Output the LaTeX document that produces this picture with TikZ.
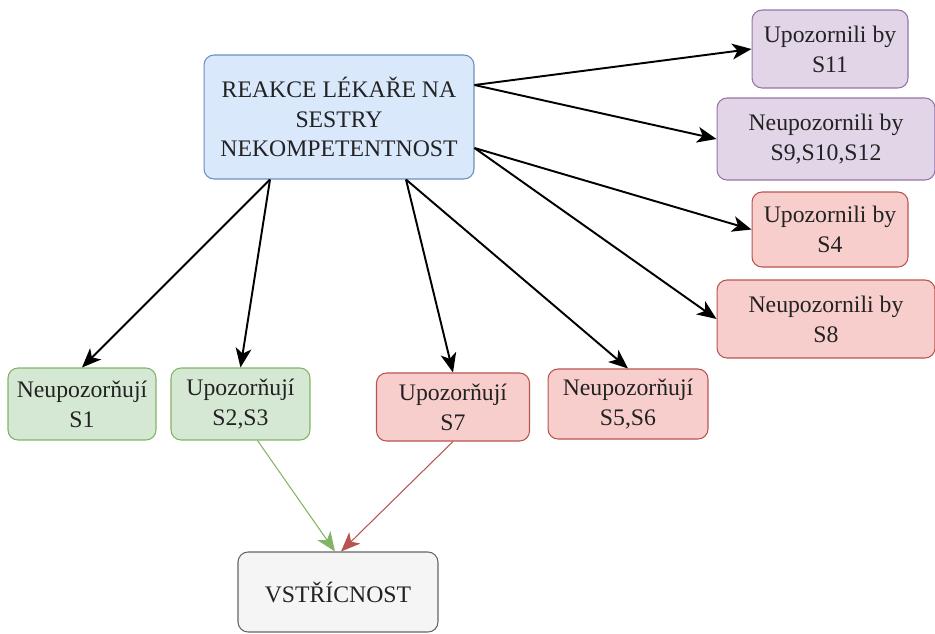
\documentclass[tikz,border=0pt]{standalone}
\usepackage{fontspec}
\setmainfont{Liberation Serif}
\usetikzlibrary{arrows.meta}

\definecolor{blueFill}{HTML}{DAE8FC}
\definecolor{blueLine}{HTML}{6C8EBF}
\definecolor{violetFill}{HTML}{E1D5E7}
\definecolor{violetLine}{HTML}{9673A6}
\definecolor{redFill}{HTML}{F8CECC}
\definecolor{redLine}{HTML}{B85450}
\definecolor{greenFill}{HTML}{D5E8D4}
\definecolor{greenLine}{HTML}{82B366}
\definecolor{greyFill}{HTML}{F5F5F5}
\definecolor{greyLine}{HTML}{666666}
\definecolor{txt}{HTML}{222222}

\begin{document}
\begin{tikzpicture}[x=0.02cm, y=-0.02cm, >={Stealth[length=11pt,width=9pt,inset=3pt]},
  font=\fontsize{13.5}{17}\selectfont,
  box/.style={draw, rounded corners=0.2cm, align=center, inner sep=0pt, text=txt, line width=0.6pt},
  bluebox/.style={box, fill=blueFill, draw=blueLine},
  violetbox/.style={box, fill=violetFill, draw=violetLine},
  redbox/.style={box, fill=redFill, draw=redLine},
  greenbox/.style={box, fill=greenFill, draw=greenLine},
  greybox/.style={box, fill=greyFill, draw=greyLine},
  link/.style={->, line width=1.1pt, black}]

\useasboundingbox (0,0) rectangle (935,633);

% main node
\node[bluebox, minimum width=5.4cm, minimum height=2.48cm] (reakce) at (339,117)
  {REAKCE LÉKAŘE NA\\SESTRY\\NEKOMPETENTNOST};

% right column
\node[violetbox, minimum width=3.12cm, minimum height=1.56cm] (s11) at (830,49)
  {Upozornili by\\S11};
\node[violetbox, minimum width=4.36cm, minimum height=1.64cm] (s9) at (826,139)
  {Neupozornili by\\S9,S10,S12};
\node[redbox, minimum width=3.12cm, minimum height=1.5cm] (s4) at (830,229.5)
  {Upozornili by\\S4};
\node[redbox, minimum width=4.36cm, minimum height=1.56cm] (s8) at (826,319)
  {Neupozornili by\\S8};

% bottom row
\node[greenbox, minimum width=2.96cm, minimum height=1.44cm] (s1) at (82,404)
  {Neupozorňují\\S1};
\node[greenbox, minimum width=2.78cm, minimum height=1.44cm] (s2) at (240.5,404)
  {Upozorňují\\S2,S3};
\node[redbox, minimum width=3.06cm, minimum height=1.36cm] (s7) at (453,407)
  {Upozorňují\\S7};
\node[redbox, minimum width=3.2cm, minimum height=1.4cm] (s5) at (628,404)
  {Neupozorňují\\S5,S6};

% result
\node[greybox, minimum width=4cm, minimum height=1.6cm] (vstric) at (338,592)
  {VSTŘÍCNOST};

% arrows from main node
\draw[link] ([yshift=0.64cm]reakce.east) -- (s11.west);
\draw[link] ([yshift=0.64cm]reakce.east) -- (s9.west);
\draw[link] ([yshift=-0.62cm]reakce.east) -- (s4.west);
\draw[link] ([yshift=-0.62cm]reakce.east) -- (s8.west);
\draw[link] ([xshift=-1.38cm]reakce.south) -- (s1.north);
\draw[link] ([xshift=-1.38cm]reakce.south) -- (s2.north);
\draw[link] ([xshift=1.34cm]reakce.south) -- (s7.north);
\draw[link] ([xshift=1.34cm]reakce.south) -- (s5.north);

% arrows to result
\draw[->, greenLine, line width=0.6pt] ([xshift=0.34cm]s2.south) -- ([xshift=-0.06cm]vstric.north);
\draw[->, redLine, line width=0.6pt] (s7.south) -- ([xshift=0.06cm]vstric.north);

\end{tikzpicture}
\end{document}
